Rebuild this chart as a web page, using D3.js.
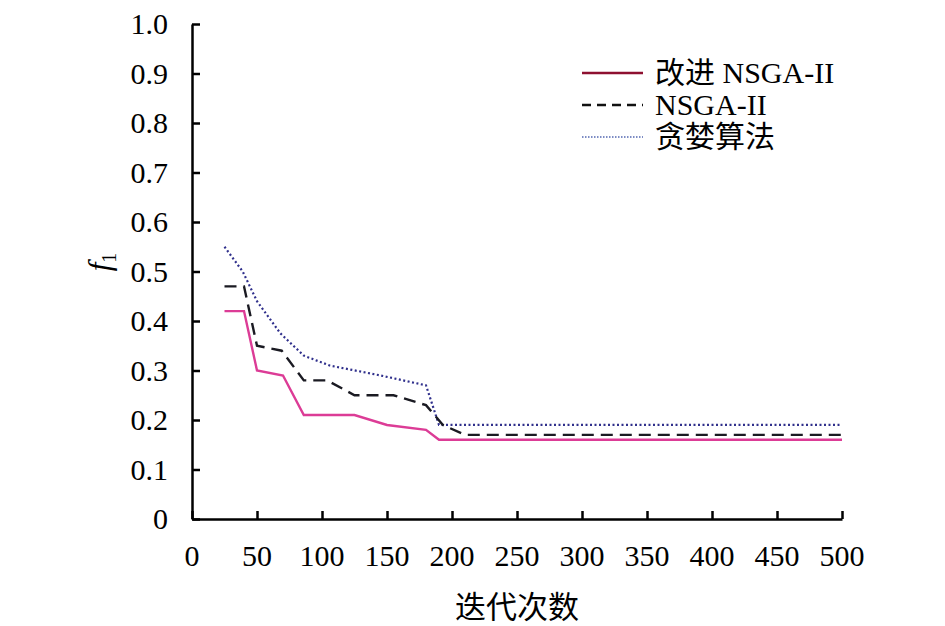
<!DOCTYPE html>
<meta charset="utf-8">
<style>
    body { margin: 0; background: #fff; }
    text { font-family: "Liberation Serif", "Noto Sans CJK SC", serif; fill: #000; }
    .axis path, .axis line { stroke: #000; stroke-width: 2.5; }
</style>
<svg width="945" height="626"></svg>
<script src="https://d3js.org/d3.v7.min.js"></script>
<script>

    var svg = d3.select("svg");

    // iteration counts (x) and objective f1 for each algorithm
    var improvedX = [25, 40, 50, 70, 86, 125, 150, 180, 190, 500];
    var improvedY = [0.42, 0.42, 0.30, 0.29, 0.21, 0.21, 0.19, 0.18, 0.16, 0.16];

    var nsgaX = [25, 40, 50, 69, 86, 104, 125, 155, 180, 193, 210, 500];
    var nsgaY = [0.47, 0.47, 0.35, 0.34, 0.28, 0.28, 0.25, 0.25, 0.23, 0.19, 0.17, 0.17];

    var greedyX = [25, 39, 50, 68, 86, 106, 145, 180, 190, 500];
    var greedyY = [0.55, 0.50, 0.44, 0.375, 0.33, 0.31, 0.29, 0.27, 0.19, 0.19];

    var seriesNames = ["改进 NSGA-II", "NSGA-II", "贪婪算法"];
    var xTicks = [0, 50, 100, 150, 200, 250, 300, 350, 400, 450, 500];
    var yTicks = [0, 0.1, 0.2, 0.3, 0.4, 0.5, 0.6, 0.7, 0.8, 0.9, 1.0];

    var x = d3.scaleLinear().domain([0, 500]).range([192, 842]);
    var y = d3.scaleLinear().domain([0, 1]).range([519, 24]);

    var series = [
        {name: seriesNames[0], xs: improvedX, ys: improvedY, color: "#dc3c96", legend: "#8e1030", dash: null, ldash: null, width: 2.4},
        {name: seriesNames[1], xs: nsgaX, ys: nsgaY, color: "#1a1a22", legend: "#111", dash: "12,7", ldash: "9,6", width: 2.4},
        {name: seriesNames[2], xs: greedyX, ys: greedyY, color: "#30308c", legend: "#7d8cc4", dash: "2,2.5", ldash: "1.5,1.5", width: 2.2}
    ];

    // axes
    svg.append("g")
        .attr("class", "axis")
        .attr("transform", "translate(0," + y(0) + ")")
        .call(d3.axisTop(x).tickValues(xTicks).tickSize(8).tickSizeOuter(0).tickFormat(""));

    svg.append("g")
        .attr("class", "axis")
        .attr("transform", "translate(" + x(0) + ",0)")
        .call(d3.axisRight(y).tickValues(yTicks).tickSize(8).tickSizeOuter(0).tickFormat(""));

    svg.append("g").selectAll("text")
        .data(xTicks)
        .enter().append("text")
        .attr("x", function(d) { return x(d); })
        .attr("y", 566)
        .attr("text-anchor", "middle")
        .attr("font-size", 30)
        .text(function(d) { return d; });

    svg.append("g").selectAll("text")
        .data(yTicks)
        .enter().append("text")
        .attr("x", 168)
        .attr("y", function(d) { return y(d) + 10; })
        .attr("text-anchor", "end")
        .attr("font-size", 30)
        .text(function(d) { return d === 0 ? "0" : d.toFixed(1); });

    // axis titles
    svg.append("text")
        .attr("x", 517)
        .attr("y", 618)
        .attr("text-anchor", "middle")
        .attr("font-size", 31)
        .text("迭代次数");

    var yl = svg.append("text")
        .attr("transform", "translate(110,262) rotate(-90)")
        .attr("text-anchor", "middle")
        .attr("font-size", 31);
    yl.append("tspan").attr("font-style", "italic").text("f");
    yl.append("tspan").attr("font-size", 20).attr("dy", 6).text("1");

    // lines
    var line = d3.line()
        .x(function(d) { return x(d[0]); })
        .y(function(d) { return y(d[1]); });

    svg.append("g").selectAll("path")
        .data(series.slice().reverse())
        .enter().append("path")
        .attr("fill", "none")
        .attr("stroke", function(d) { return d.color; })
        .attr("stroke-width", function(d) { return d.width; })
        .attr("stroke-dasharray", function(d) { return d.dash; })
        .attr("d", function(d) { return line(d3.zip(d.xs, d.ys)); });

    // legend
    var legendY = [73, 105, 137];
    var lg = svg.append("g").selectAll("g")
        .data(series)
        .enter().append("g")
        .attr("transform", function(d, i) { return "translate(0," + legendY[i] + ")"; });

    lg.append("line")
        .attr("x1", 582).attr("x2", 643)
        .attr("stroke", function(d) { return d.legend; })
        .attr("stroke-width", function(d) { return d.width; })
        .attr("stroke-dasharray", function(d) { return d.ldash; });

    lg.append("text")
        .attr("x", 655)
        .attr("y", 10)
        .attr("font-size", 30)
        .text(function(d) { return d.name; });

</script>
